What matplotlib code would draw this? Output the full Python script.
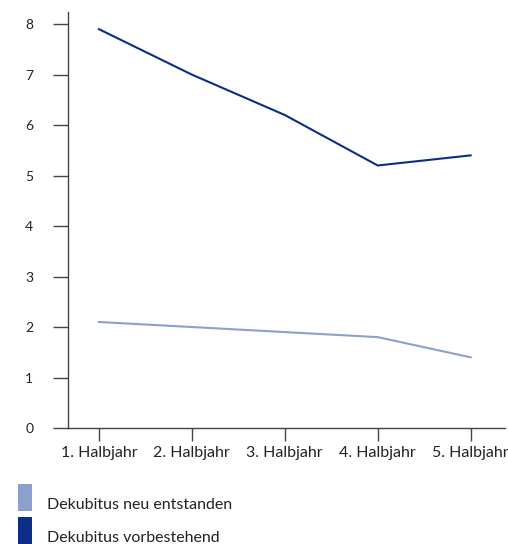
import matplotlib
matplotlib.use("Agg")
import matplotlib.pyplot as plt
from matplotlib.patches import Rectangle

plt.rcParams['font.family'] = ['Lato', 'DejaVu Sans']

# data
periods = ["1. Halbjahr", "2. Halbjahr", "3. Halbjahr", "4. Halbjahr", "5. Halbjahr"]
neu_entstanden = [2.1, 2.0, 1.9, 1.8, 1.4]
vorbestehend = [7.9, 7.0, 6.2, 5.2, 5.4]
series_labels = ["Dekubitus neu entstanden", "Dekubitus vorbestehend"]
colors = ["#8da0cb", "#0b2d87"]
yticks = [0, 1, 2, 3, 4, 5, 6, 7, 8]

W, H = 508, 544
fig = plt.figure(figsize=(W / 100, H / 100), dpi=100)
ax = fig.add_axes([68 / W, (H - 428) / H, (505 - 68) / W, (428 - 12) / H])

x = range(1, len(periods) + 1)
ax.plot(x, neu_entstanden, color=colors[0], lw=1.5)
ax.plot(x, vorbestehend, color=colors[1], lw=1.5)

ax.set_xlim(0.667, 5.37)
ax.set_ylim(0, 8.24)
ax.set_xticks(list(x))
ax.set_xticklabels(periods)
ax.set_yticks(yticks)
ax.set_yticklabels([str(v) for v in yticks])

for s in ["top", "right"]:
    ax.spines[s].set_visible(False)
for s in ["left", "bottom"]:
    ax.spines[s].set_color("#444444")
    ax.spines[s].set_linewidth(1.0)

ax.tick_params(axis="y", length=11, width=1.0, color="#444444", pad=14,
               labelsize=10, labelcolor="#222222")
ax.tick_params(axis="x", length=9, width=1.0, color="#444444", pad=4,
               labelsize=11.5, labelcolor="#222222")

# legend
for i, (lab, c) in enumerate(zip(series_labels, colors)):
    top = 484 + i * 33
    fig.add_artist(Rectangle((18 / W, 1 - (top + 27) / H), 14 / W, 27 / H,
                             transform=fig.transFigure, color=c, lw=0))
    fig.text(47 / W, 1 - (top + 21) / H, lab, fontsize=11.5, color="#222222",
             va="center", ha="left")

fig.savefig("out.png", dpi=100)
